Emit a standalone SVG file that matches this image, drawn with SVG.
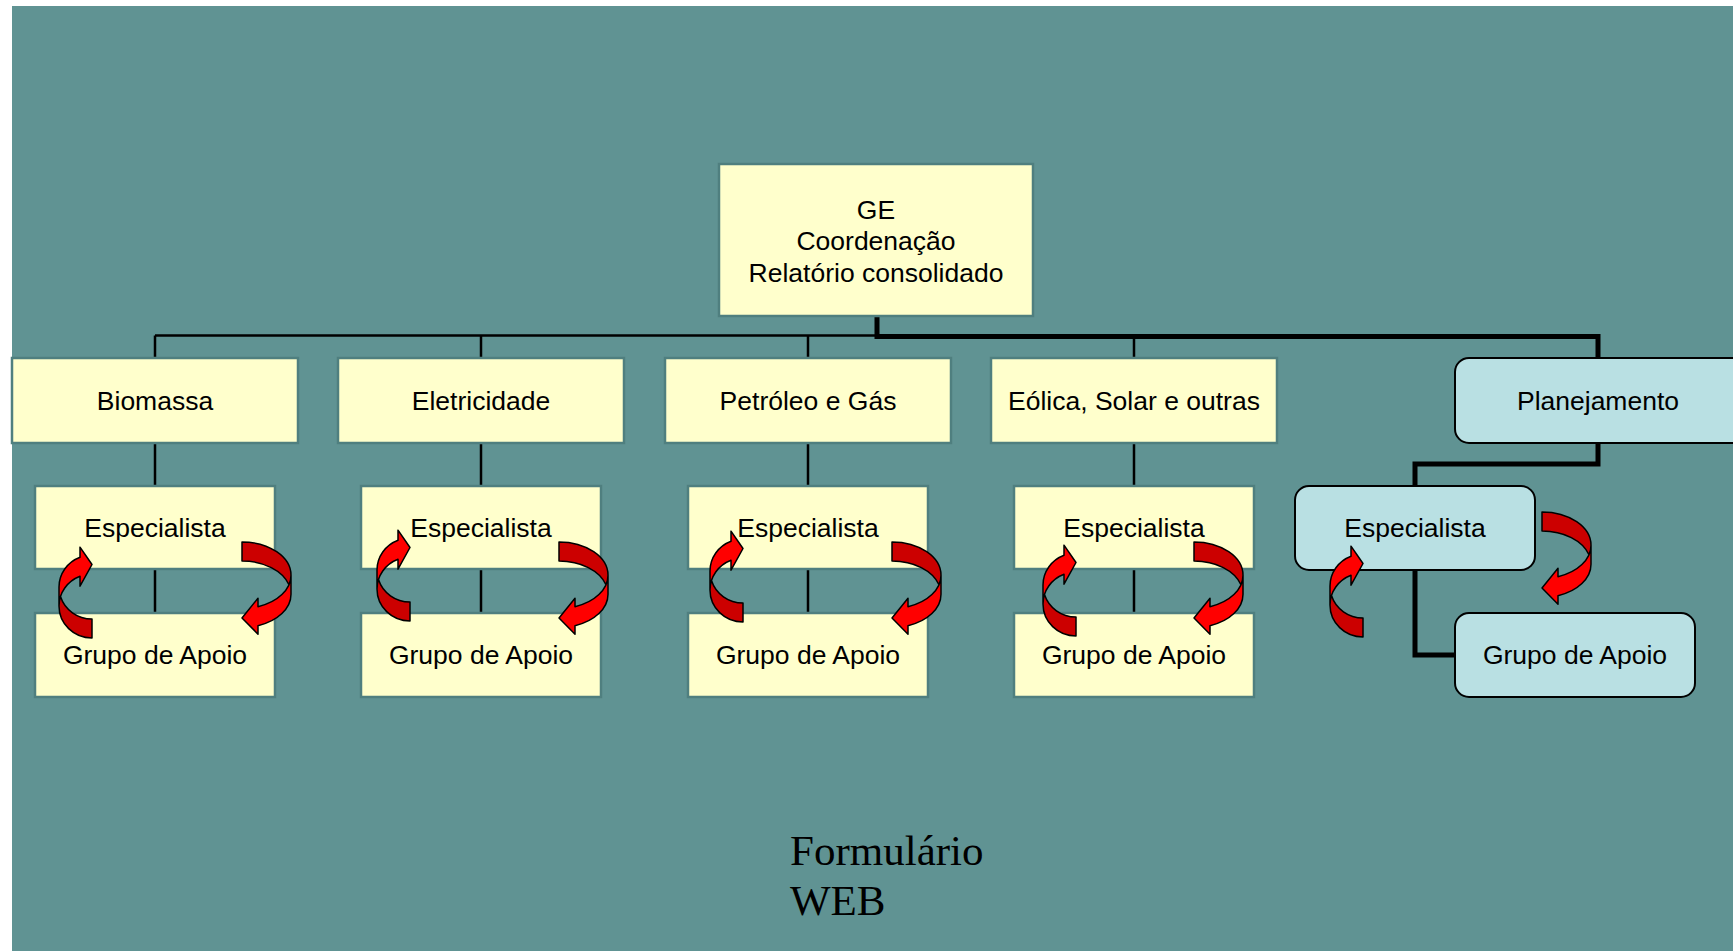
<svg xmlns="http://www.w3.org/2000/svg" width="1733" height="951" viewBox="0 0 1733 951">
<defs>
<style>
.y{fill:#FFFFCC;stroke:#4f7f7f;stroke-width:2.5}
.b{fill:#B9E0E3;stroke:#000;stroke-width:2}
.t{font-family:"Liberation Sans",Arial,sans-serif;font-size:26.5px;fill:#000;text-anchor:middle}
.f{font-family:"Liberation Serif","Times New Roman",serif;font-size:43px;fill:#000}
.thin{stroke:#000;stroke-width:2.5;fill:none}
.thick{stroke:#000;stroke-width:5;fill:none;stroke-linejoin:miter}
.br{fill:#FF0000}
.dk{fill:#CC0000}
.ol{fill:none;stroke:#000;stroke-width:1.5;stroke-linejoin:round}
</style>
<g id="arrowL">
<path class="br" d="M0,32 A33,32 0 0 0 21,61.81 L21,51.81 L33,73.5 L21,90.81 L21,80.81 A33,32 0 0 1 0,51 Z"/>
<path class="dk" d="M33,19 A33,32 0 0 0 1.49,41.5 A33,32 0 0 1 33,0 Z"/>
<path class="ol" d="M0,32 A33,32 0 0 0 21,61.81 L21,51.81 L33,73.5 L21,90.81 L21,80.81 A33,32 0 0 1 0,51 Z M0,32 A33,32 0 0 1 33,0 L33,19 A33,32 0 0 0 1.49,41.5"/>
</g>
<g id="arrowR">
<path class="br" d="M0,33.25 A49,33.25 0 0 0 33,64.68 L33,56.18 L49,76 L33,92.18 L33,83.68 A49,33.25 0 0 1 0,52.25 Z"/>
<path class="dk" d="M49,19 A49,33.25 0 0 0 2.04,42.75 A49,33.25 0 0 1 49,0 Z"/>
<path class="ol" d="M0,33.25 A49,33.25 0 0 0 33,64.68 L33,56.18 L49,76 L33,92.18 L33,83.68 A49,33.25 0 0 1 0,52.25 Z M0,33.25 A49,33.25 0 0 1 49,0 L49,19 A49,33.25 0 0 0 2.04,42.75"/>
</g>
</defs>
<rect x="0" y="0" width="1733" height="951" fill="#FFFFFF"/>
<rect x="12" y="6" width="1721" height="945" fill="#609393"/>

<g id="connectors">
<path class="thin" d="M155,335.5 H877"/>
<path class="thin" d="M155,335.5 V358 M481,335.5 V358 M808,335.5 V358 M1134,335.5 V358"/>
<path class="thick" d="M877,316 V336.5 H1598 V358"/>
<path class="thin" d="M155,443 V486 M155,569 V613"/>
<path class="thin" d="M481,443 V486 M481,569 V613"/>
<path class="thin" d="M808,443 V486 M808,569 V613"/>
<path class="thin" d="M1134,443 V486 M1134,569 V613"/>
<path class="thick" d="M1598,443 V464 H1415 V486"/>
<path class="thick" d="M1415,570 V655 H1455"/>
</g>

<g id="ge">
<rect class="y" x="719" y="164" width="314" height="152"/>
<text class="t" x="876" y="218.5">GE</text>
<text class="t" x="876" y="250">Coordenação</text>
<text class="t" x="876" y="281.5">Relatório consolidado</text>
</g>

<g id="biomassa">
<rect class="y" x="12" y="358" width="286" height="85"/>
<text class="t" x="155" y="410">Biomassa</text>
</g>
<g id="biomassa-especialista">
<rect class="y" x="35" y="486" width="240" height="83"/>
<text class="t" x="155" y="537">Especialista</text>
</g>
<g id="biomassa-grupo">
<rect class="y" x="35" y="613" width="240" height="84"/>
<text class="t" x="155" y="664">Grupo de Apoio</text>
</g>

<g id="eletricidade">
<rect class="y" x="338" y="358" width="286" height="85"/>
<text class="t" x="481" y="410">Eletricidade</text>
</g>
<g id="eletricidade-especialista">
<rect class="y" x="361" y="486" width="240" height="83"/>
<text class="t" x="481" y="537">Especialista</text>
</g>
<g id="eletricidade-grupo">
<rect class="y" x="361" y="613" width="240" height="84"/>
<text class="t" x="481" y="664">Grupo de Apoio</text>
</g>

<g id="petroleo">
<rect class="y" x="665" y="358" width="286" height="85"/>
<text class="t" x="808" y="410">Petróleo e Gás</text>
</g>
<g id="petroleo-especialista">
<rect class="y" x="688" y="486" width="240" height="83"/>
<text class="t" x="808" y="537">Especialista</text>
</g>
<g id="petroleo-grupo">
<rect class="y" x="688" y="613" width="240" height="84"/>
<text class="t" x="808" y="664">Grupo de Apoio</text>
</g>

<g id="eolica">
<rect class="y" x="991" y="358" width="286" height="85"/>
<text class="t" x="1134" y="410">Eólica, Solar e outras</text>
</g>
<g id="eolica-especialista">
<rect class="y" x="1014" y="486" width="240" height="83"/>
<text class="t" x="1134" y="537">Especialista</text>
</g>
<g id="eolica-grupo">
<rect class="y" x="1014" y="613" width="240" height="84"/>
<text class="t" x="1134" y="664">Grupo de Apoio</text>
</g>

<g id="planejamento">
<rect class="b" x="1455" y="358" width="300" height="85" rx="14"/>
<text class="t" x="1598" y="410">Planejamento</text>
</g>
<g id="planejamento-especialista">
<rect class="b" x="1295" y="486" width="240" height="84" rx="14"/>
<text class="t" x="1415" y="537">Especialista</text>
</g>
<g id="planejamento-grupo">
<rect class="b" x="1455" y="613" width="240" height="84" rx="14"/>
<text class="t" x="1575" y="664">Grupo de Apoio</text>
</g>

<g id="arrows">
<use href="#arrowL" transform="translate(59,638) scale(1,-1)"/>
<use href="#arrowR" transform="translate(291,542) scale(-1,1)"/>
<use href="#arrowL" transform="translate(377,621) scale(1,-1)"/>
<use href="#arrowR" transform="translate(608,542) scale(-1,1)"/>
<use href="#arrowL" transform="translate(710,622) scale(1,-1)"/>
<use href="#arrowR" transform="translate(941,542) scale(-1,1)"/>
<use href="#arrowL" transform="translate(1043,636) scale(1,-1)"/>
<use href="#arrowR" transform="translate(1243,542) scale(-1,1)"/>
<use href="#arrowL" transform="translate(1330,637) scale(1,-1)"/>
<use href="#arrowR" transform="translate(1591,512) scale(-1,1)"/>
</g>

<g id="formulario">
<text class="f" x="790" y="865">Formulário</text>
<text class="f" x="790" y="915">WEB</text>
</g>
</svg>
